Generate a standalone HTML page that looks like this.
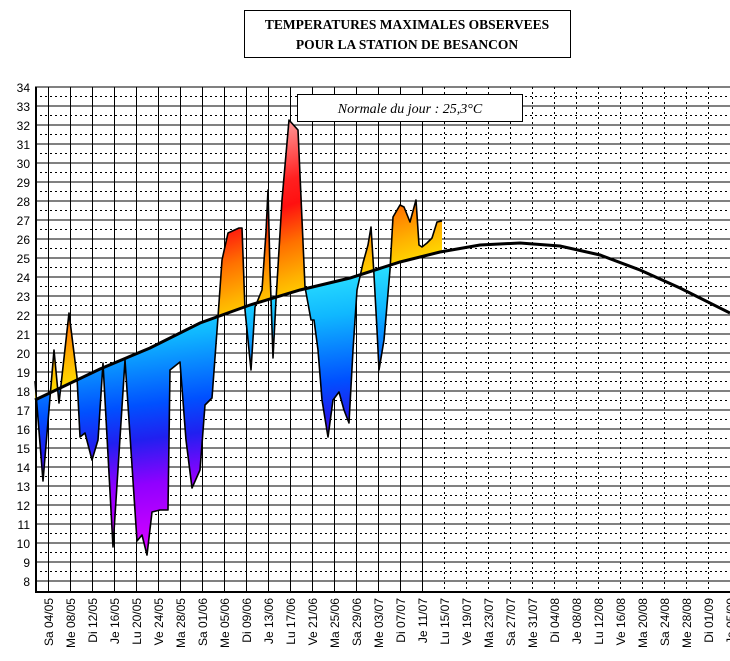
<!DOCTYPE html>
<html><head><meta charset="utf-8"><style>
html,body{margin:0;padding:0;background:#fff;}
svg{display:block;}
</style></head><body>
<svg width="730" height="661" xmlns="http://www.w3.org/2000/svg" font-family="Liberation Sans, sans-serif">
<defs>
<linearGradient id="warm" gradientUnits="userSpaceOnUse" x1="35" y1="400" x2="-31" y2="212">
<stop offset="0" stop-color="#ffe000"/><stop offset="0.15" stop-color="#ffb000"/><stop offset="0.32" stop-color="#ff7000"/><stop offset="0.5" stop-color="#ff1010"/><stop offset="0.62" stop-color="#ff2020"/><stop offset="0.9" stop-color="#ff9898"/><stop offset="1" stop-color="#ffa0a0"/>
</linearGradient>
<linearGradient id="cold" gradientUnits="userSpaceOnUse" x1="35" y1="300" x2="68" y2="560">
<stop offset="0" stop-color="#30e8ff"/><stop offset="0.2" stop-color="#10b8ff"/><stop offset="0.45" stop-color="#0050ff"/><stop offset="0.58" stop-color="#2020f0"/><stop offset="0.75" stop-color="#9000ff"/><stop offset="1" stop-color="#d800ff"/>
</linearGradient>
<clipPath id="aboveN"><path d="M35,400 L100,369 L150,348 L200,323 L250,305 L300,290 L350,278 L400,262 L440,252 L480,245 L520,243 L560,246 L600,255 L640,270 L680,288 L730,313 L730,0 L35,0 Z"/></clipPath>
<clipPath id="belowN"><path d="M35,400 L100,369 L150,348 L200,323 L250,305 L300,290 L350,278 L400,262 L440,252 L480,245 L520,243 L560,246 L600,255 L640,270 L680,288 L730,313 L730,661 L35,661 Z"/></clipPath>
</defs>
<rect x="244.5" y="10.5" width="326" height="47" fill="#fff" stroke="#000"/>
<text x="407" y="29" text-anchor="middle" font-family="Liberation Serif, serif" font-weight="bold" font-size="13.5">TEMPERATURES MAXIMALES OBSERVEES</text>
<text x="407" y="49" text-anchor="middle" font-family="Liberation Serif, serif" font-weight="bold" font-size="13.5">POUR LA STATION DE BESANCON</text>
<g stroke="#000" stroke-width="1" fill="none">
<path d="M35,87H730M35,106H730M35,125H730M35,144H730M35,163H730M35,182H730M35,201H730M35,220H730M35,239H730M35,258H730M35,277H730M35,296H730M35,315H730M35,334H730M35,353H730M35,372H730M35,391H730M35,410H730M35,429H730M35,448H730M35,467H730M35,486H730M35,505H730M35,524H730M35,543H730M35,562H730M35,581H730"/>
<path stroke-dasharray="2,3" d="M35,96.5H730M35,115.5H730M35,134.5H730M35,153.5H730M35,172.5H730M35,191.5H730M35,210.5H730M35,229.5H730M35,248.5H730M35,267.5H730M35,286.5H730M35,305.5H730M35,324.5H730M35,343.5H730M35,362.5H730M35,381.5H730M35,400.5H730M35,419.5H730M35,438.5H730M35,457.5H730M35,476.5H730M35,495.5H730M35,514.5H730M35,533.5H730M35,552.5H730M35,571.5H730"/>
<path d="M48.5,87V592M70.5,87V592M92.5,87V592M114.5,87V592M136.5,87V592M158.5,87V592M180.5,87V592M202.5,87V592M224.5,87V592M246.5,87V592M268.5,87V592M290.5,87V592M312.5,87V592M334.5,87V592M356.5,87V592M378.5,87V592M400.5,87V592M422.5,87V592"/>
<path stroke-dasharray="2,3" d="M444.5,87V592M466.5,87V592M488.5,87V592M510.5,87V592M532.5,87V592M554.5,87V592M576.5,87V592M598.5,87V592M620.5,87V592M642.5,87V592M664.5,87V592M686.5,87V592M708.5,87V592"/>
<path stroke-width="2" d="M36,87V592M35,592H730"/>
</g>
<path clip-path="url(#aboveN)" fill="url(#warm)" d="M35,381 L43,481 L54,350 L59,403 L69,313 L77,377 L80,437 L85,433 L92,460 L98,440 L103,363 L113,547 L125,360 L137,541 L142,535 L147,555 L152,512 L160,510 L168,510 L170,370 L180,362 L186,440 L192,488 L200,470 L205,405 L212,398 L218,317 L222,260 L228,233 L239,228 L242,228 L245,310 L251,370 L255,307 L262,290 L266,232 L268,190 L270,270 L273,358 L276,300 L282,200 L289,120 L298,130 L305,287 L311,320 L314,320 L318,350 L322,400 L328,437 L333,400 L339,392 L344,410 L349,423 L353,350 L357,290 L363,263 L368,245 L371,227 L374,275 L377,330 L379,370 L384,340 L390,270 L393,217 L400,205 L404,207 L410,222 L416,200 L419,245 L422,247 L427,243 L432,238 L437,222 L442,221 L442,661 L35,661 Z"/>
<path clip-path="url(#belowN)" fill="url(#cold)" d="M35,381 L43,481 L54,350 L59,403 L69,313 L77,377 L80,437 L85,433 L92,460 L98,440 L103,363 L113,547 L125,360 L137,541 L142,535 L147,555 L152,512 L160,510 L168,510 L170,370 L180,362 L186,440 L192,488 L200,470 L205,405 L212,398 L218,317 L222,260 L228,233 L239,228 L242,228 L245,310 L251,370 L255,307 L262,290 L266,232 L268,190 L270,270 L273,358 L276,300 L282,200 L289,120 L298,130 L305,287 L311,320 L314,320 L318,350 L322,400 L328,437 L333,400 L339,392 L344,410 L349,423 L353,350 L357,290 L363,263 L368,245 L371,227 L374,275 L377,330 L379,370 L384,340 L390,270 L393,217 L400,205 L404,207 L410,222 L416,200 L419,245 L422,247 L427,243 L432,238 L437,222 L442,221 L442,87 L35,87 Z"/>
<path fill="none" stroke="#000" stroke-width="1.6" stroke-linejoin="round" d="M35,381 L43,481 L54,350 L59,403 L69,313 L77,377 L80,437 L85,433 L92,460 L98,440 L103,363 L113,547 L125,360 L137,541 L142,535 L147,555 L152,512 L160,510 L168,510 L170,370 L180,362 L186,440 L192,488 L200,470 L205,405 L212,398 L218,317 L222,260 L228,233 L239,228 L242,228 L245,310 L251,370 L255,307 L262,290 L266,232 L268,190 L270,270 L273,358 L276,300 L282,200 L289,120 L298,130 L305,287 L311,320 L314,320 L318,350 L322,400 L328,437 L333,400 L339,392 L344,410 L349,423 L353,350 L357,290 L363,263 L368,245 L371,227 L374,275 L377,330 L379,370 L384,340 L390,270 L393,217 L400,205 L404,207 L410,222 L416,200 L419,245 L422,247 L427,243 L432,238 L437,222 L442,221"/>
<path fill="none" stroke="#000" stroke-width="3" d="M35,400 L100,369 L150,348 L200,323 L250,305 L300,290 L350,278 L400,262 L440,252 L480,245 L520,243 L560,246 L600,255 L640,270 L680,288 L730,313"/>
<rect x="297.5" y="94.5" width="225" height="27" fill="#fff" stroke="#000"/>
<text x="410" y="113" text-anchor="middle" font-family="Liberation Serif, serif" font-style="italic" font-size="14">Normale du jour : 25,3°C</text>
<g font-size="12" text-anchor="end" fill="#000">
<text x="30" y="92">34</text><text x="30" y="111">33</text><text x="30" y="130">32</text><text x="30" y="149">31</text><text x="30" y="168">30</text><text x="30" y="187">29</text><text x="30" y="206">28</text><text x="30" y="225">27</text><text x="30" y="244">26</text><text x="30" y="263">25</text><text x="30" y="282">24</text><text x="30" y="301">23</text><text x="30" y="320">22</text><text x="30" y="339">21</text><text x="30" y="358">20</text><text x="30" y="377">19</text><text x="30" y="396">18</text><text x="30" y="415">17</text><text x="30" y="434">16</text><text x="30" y="453">15</text><text x="30" y="472">14</text><text x="30" y="491">13</text><text x="30" y="510">12</text><text x="30" y="529">11</text><text x="30" y="548">10</text><text x="30" y="567">9</text><text x="30" y="586">8</text>
</g>
<g font-size="12" text-anchor="end" fill="#000">
<text transform="translate(53,598) rotate(-90)">Sa 04/05</text>
<text transform="translate(75,598) rotate(-90)">Me 08/05</text>
<text transform="translate(97,598) rotate(-90)">Di 12/05</text>
<text transform="translate(119,598) rotate(-90)">Je 16/05</text>
<text transform="translate(141,598) rotate(-90)">Lu 20/05</text>
<text transform="translate(163,598) rotate(-90)">Ve 24/05</text>
<text transform="translate(185,598) rotate(-90)">Ma 28/05</text>
<text transform="translate(207,598) rotate(-90)">Sa 01/06</text>
<text transform="translate(229,598) rotate(-90)">Me 05/06</text>
<text transform="translate(251,598) rotate(-90)">Di 09/06</text>
<text transform="translate(273,598) rotate(-90)">Je 13/06</text>
<text transform="translate(295,598) rotate(-90)">Lu 17/06</text>
<text transform="translate(317,598) rotate(-90)">Ve 21/06</text>
<text transform="translate(339,598) rotate(-90)">Ma 25/06</text>
<text transform="translate(361,598) rotate(-90)">Sa 29/06</text>
<text transform="translate(383,598) rotate(-90)">Me 03/07</text>
<text transform="translate(405,598) rotate(-90)">Di 07/07</text>
<text transform="translate(427,598) rotate(-90)">Je 11/07</text>
<text transform="translate(449,598) rotate(-90)">Lu 15/07</text>
<text transform="translate(471,598) rotate(-90)">Ve 19/07</text>
<text transform="translate(493,598) rotate(-90)">Ma 23/07</text>
<text transform="translate(515,598) rotate(-90)">Sa 27/07</text>
<text transform="translate(537,598) rotate(-90)">Me 31/07</text>
<text transform="translate(559,598) rotate(-90)">Di 04/08</text>
<text transform="translate(581,598) rotate(-90)">Je 08/08</text>
<text transform="translate(603,598) rotate(-90)">Lu 12/08</text>
<text transform="translate(625,598) rotate(-90)">Ve 16/08</text>
<text transform="translate(647,598) rotate(-90)">Ma 20/08</text>
<text transform="translate(669,598) rotate(-90)">Sa 24/08</text>
<text transform="translate(691,598) rotate(-90)">Me 28/08</text>
<text transform="translate(713,598) rotate(-90)">Di 01/09</text>
<text transform="translate(735,598) rotate(-90)">Je 05/09</text>
</g>
</svg>
</body></html>
